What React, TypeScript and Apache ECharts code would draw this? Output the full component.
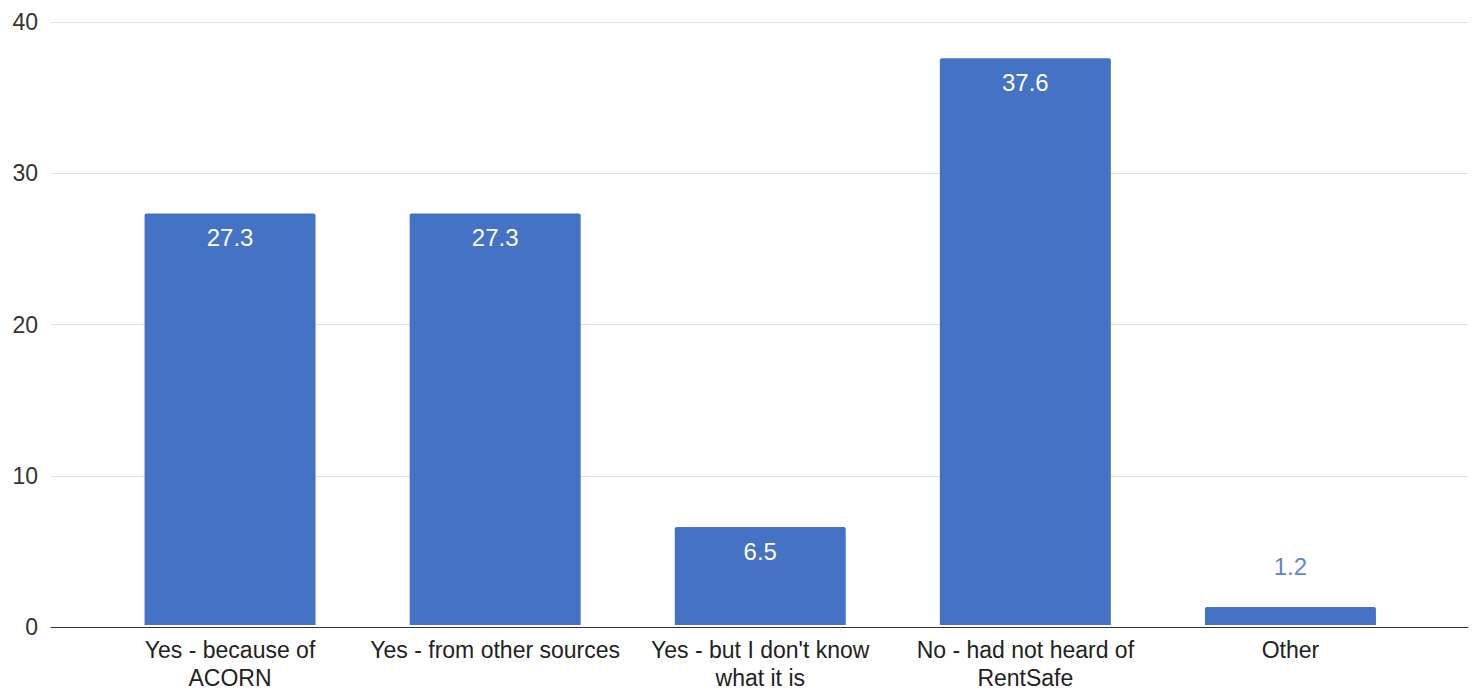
import React, { useEffect, useRef } from "react";
import * as echarts from "echarts";

const categories = [
  "Yes - because of\nACORN",
  "Yes - from other sources",
  "Yes - but I don't know\nwhat it is",
  "No - had not heard of\nRentSafe",
  "Other",
];
const values = [27.3, 27.3, 6.5, 37.6, 1.2];
const yTicks = { min: 0, max: 40, interval: 10 };

const BLUE = "#4472c4";
const FONT = "Arial, 'Liberation Sans', sans-serif";

export default function App() {
  const ref = useRef<HTMLDivElement>(null);

  useEffect(() => {
    document.body.style.margin = "0";
    if (!ref.current) return;
    const chart = echarts.init(ref.current, undefined, { renderer: "svg" });
    const top = 22;
    const bottom = 65;
    chart.setOption({
      animation: false,
      backgroundColor: "#ffffff",
      textStyle: { fontFamily: FONT },
      grid: [
        { left: 51, right: 8, top, bottom, containLabel: false },
        { left: 97.5, right: 53, top, bottom, containLabel: false },
      ],
      xAxis: [
        {
          gridIndex: 0,
          type: "category",
          data: [""],
          z: 5,
          axisLine: { show: true, lineStyle: { color: "#333333", width: 1 } },
          axisTick: { show: false },
          axisLabel: { show: false },
        },
        {
          gridIndex: 1,
          type: "category",
          data: categories,
          axisLine: { show: false },
          axisTick: { show: false },
          axisLabel: {
            color: "#222222",
            fontSize: 23,
            fontFamily: FONT,
            lineHeight: 28,
            margin: 11,
            interval: 0,
          },
        },
      ],
      yAxis: [
        {
          gridIndex: 0,
          type: "value",
          ...yTicks,
          axisLine: { show: false },
          axisTick: { show: false },
          axisLabel: { color: "#333333", fontSize: 23, fontFamily: FONT, margin: 13 },
          splitLine: { lineStyle: { color: "#e0e0e0", width: 1 } },
        },
        {
          gridIndex: 1,
          type: "value",
          ...yTicks,
          axisLine: { show: false },
          axisTick: { show: false },
          axisLabel: { show: false },
          splitLine: { show: false },
        },
      ],
      series: [
        {
          type: "bar",
          xAxisIndex: 1,
          yAxisIndex: 1,
          barWidth: "64.5%",
          z: 3,
          itemStyle: { color: BLUE, borderRadius: [2, 2, 0, 0] },
          data: values.map((v) => {
            const inside = v > 3;
            return {
              value: v,
              label: {
                show: true,
                position: inside ? "insideTop" : "top",
                distance: inside ? 12 : 28,
                color: inside ? "#ffffff" : "#5b86d6",
                fontSize: 24,
                fontFamily: FONT,
                formatter: (p: any) => String(p.value),
              },
            };
          }),
        },
      ],
    });
    return () => chart.dispose();
  }, []);

  return <div ref={ref} style={{ width: 1476, height: 692 }} />;
}
